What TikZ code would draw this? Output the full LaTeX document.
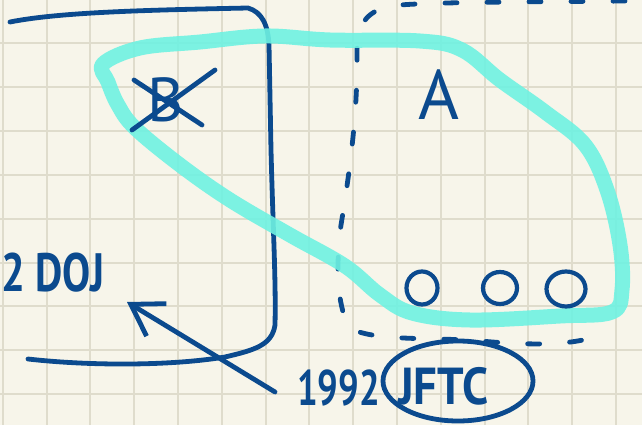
\documentclass[tikz,border=0pt]{standalone}
\usepackage{fontspec}
\usepackage{graphicx}
\setmainfont{PT Sans}
\usetikzlibrary{arrows.meta,shapes.geometric}
\definecolor{paper}{HTML}{F7F5EA}
\definecolor{gridc}{HTML}{DFDCCC}
\definecolor{ink}{HTML}{0B4A8E}
\definecolor{hl}{HTML}{6FF2E2}
\begin{document}
\begin{tikzpicture}[x=1pt,y=-1pt,
  pen/.style={draw=ink,line width=4.8pt,line cap=round,line join=round},
  marker/.style={draw=hl,line width=15pt,line cap=round,line join=round,opacity=0.9},
  hand/.style={text=ink,inner sep=0pt},
  ring/.style={draw=ink,line width=4.2pt,ellipse,inner sep=0pt},
  dashline/.style={pen,dash pattern=on 12pt off 30pt}]
\useasboundingbox (0,0) rectangle (642,425);
\clip (0,0) rectangle (642,425);
\fill[paper] (0,0) rectangle (642,425);
\foreach \i in {0,...,14} {
  \draw[gridc,line width=2pt] ({2.7+43.8*\i},0) -- ({2.7+43.8*\i},425);
}
\foreach \j in {1,...,9} {
  \draw[gridc,line width=2pt] (0,{-0.3+43.8*\j}) -- (642,{-0.3+43.8*\j});
}
% frame around B
\draw[pen] (10,22) .. controls (60,12) and (150,10) .. (248,8)
  .. controls (262,12) and (268,25) .. (269,45)
  -- (271,150) .. controls (273,230) and (276,280) .. (275,325)
  .. controls (272,345) and (255,350) .. (225,357)
  .. controls (170,366) and (90,366) .. (28,359);
% dashed boundary
\draw[dashline] (625,1) .. controls (520,2) and (420,2) .. (390,6)
  .. controls (365,12) and (358,25) .. (357,50)
  .. controls (358,110) and (350,170) .. (341,225)
  .. controls (335,270) and (338,310) .. (350,328)
  .. controls (370,340) and (420,338) .. (470,340)
  .. controls (520,345) and (570,347) .. (600,335);
% cyan highlight loop
\draw[marker] plot[smooth cycle,tension=0.6] coordinates {
  (103,64) (140,48) (200,42) (265,36) (330,40) (420,41) (462,50)
  (500,80) (545,112) (585,145) (607,190) (620,245) (622,290) (612,312)
  (560,316) (470,320) (412,313) (380,295) (345,266) (290,235)
  (230,200) (180,165) (135,128) (118,105) (108,82)};
% B crossed out
\node[hand,font=\fontsize{62}{62}\selectfont] (bletter) at (166,100) {B};
\draw[pen] (134,80) -- (202,125);
\draw[pen] (215,70) -- (132,130);
% A
\node[hand,font=\fontsize{70}{70}\selectfont] (aletter) at (439,95) {A};
% three o
\node[ring,minimum width=31pt,minimum height=33pt] (o1) at (422,288) {};
\node[ring,minimum width=34pt,minimum height=32pt] (o2) at (500,288) {};
\node[ring,minimum width=39pt,minimum height=35pt] (o3) at (566,289) {};
% texts
\node[hand,anchor=base west,font=\bfseries\fontsize{54}{54}\selectfont] (doj) at (1,291) {\scalebox{0.78}[1]{2 DOJ}};
\node[hand,anchor=base west,font=\bfseries\fontsize{50}{50}\selectfont] (year) at (297,405) {\scalebox{0.73}[1]{1992}};
\node[hand,anchor=base west,font=\bfseries\fontsize{52}{52}\selectfont] (jftc) at (398,404) {\scalebox{0.9}[1]{JFTC}};
\node[ring,line width=4.8pt,minimum width=150pt,minimum height=80pt] (jftcring) at (458,381) {};
% arrow
\coordinate (arrowtail) at (275,392);
\coordinate (arrowtip) at (127,302);
\draw[pen,-{Straight Barb[length=30pt,width=38pt,line width=4.8pt]}] (arrowtail) -- (arrowtip);
\end{tikzpicture}
\end{document}
